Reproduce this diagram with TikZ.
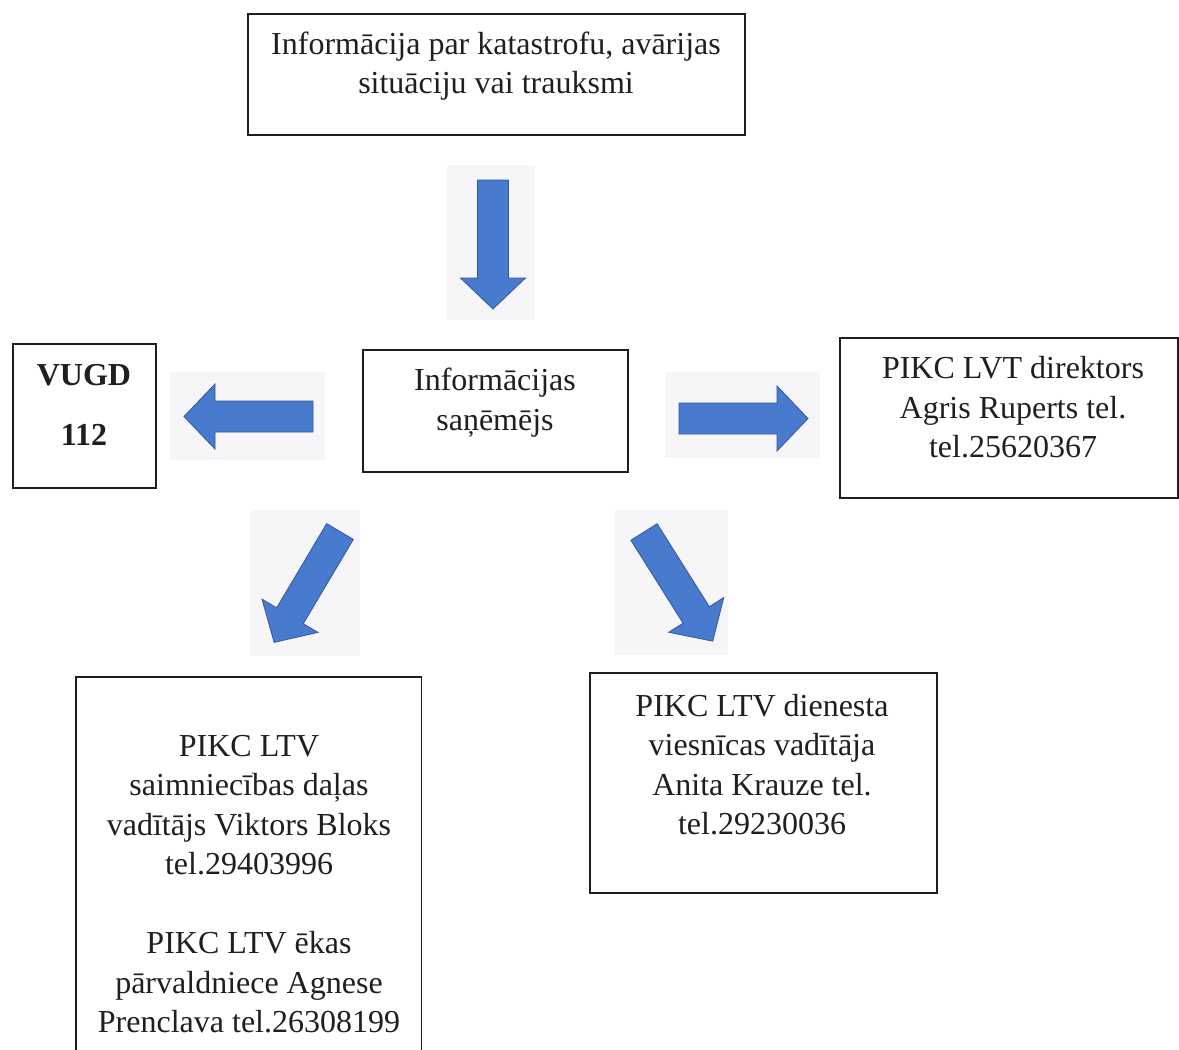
\documentclass[tikz,border=0pt]{standalone}
\usepackage{fontspec}
\setmainfont{Liberation Serif}
\definecolor{arrowblue}{RGB}{72,122,206}
\definecolor{arrowedge}{RGB}{50,88,158}
\definecolor{palebg}{RGB}{246,245,248}
\definecolor{boxline}{RGB}{30,30,30}
\tikzset{
  box/.style={draw=boxline, line width=1.4pt, inner sep=0pt},
  txt/.style={align=center, inner sep=0pt, font=\fontsize{32pt}{39.5pt}\selectfont, text=black!88},
  bg/.style={fill=palebg, draw=none},
  blockarrow/.pic={
    \filldraw[fill=arrowblue, draw=arrowedge, line width=0.8pt, line join=miter]
      (0,15.5) -- (98,15.5) -- (98,32.5) -- (129,0) -- (98,-32.5) -- (98,-15.5) -- (0,-15.5) -- cycle;
  }
}
\begin{document}
\begin{tikzpicture}[x=1pt,y=-1pt]
\useasboundingbox[fill=white] (0,0) rectangle (1179,1050);

% pale backgrounds of the arrows
\fill[bg] (447,165) rectangle (535,320);
\fill[bg] (170,372) rectangle (325,460);
\fill[bg] (665,372) rectangle (820,458);
\fill[bg] (250,510) rectangle (360,656);
\fill[bg] (615,510) rectangle (728,655);

% boxes
\node[box, minimum width=497pt, minimum height=121pt] (top) at (496.5,74.5) {};
\node[txt] (toptext) at (496,66) {Informācija par katastrofu, avārijas\\situāciju vai trauksmi};

\node[box, minimum width=265pt, minimum height=122pt] (center) at (495.5,411) {};
\node[txt] (centertext) at (495,402.5) {Informācijas\\saņēmējs};

\node[box, minimum width=143pt, minimum height=144pt] (vugd) at (84.5,416) {};
\node[txt, font=\fontsize{32pt}{60pt}\selectfont\bfseries] (vugdtext) at (84,405) {VUGD\\112};

\node[box, minimum width=338pt, minimum height=160pt] (dir) at (1009,418) {};
\node[txt] (dirtext) at (1013,407.5) {PIKC LVT direktors\\Agris Ruperts tel.\\tel.25620367};

\node[box, minimum width=347pt, minimum height=220pt] (hotel) at (763.5,783) {};
\node[txt] (hoteltext) at (762,764.5) {PIKC LTV dienesta\\viesnīcas vadītāja\\Anita Krauze tel.\\tel.29230036};

\node[inner sep=0pt, minimum width=345pt, minimum height=373pt] (farm) at (248.5,863.5) {};
\draw[boxline, line width=1.4pt] (farm.south west) |- (farm.north east) -- (farm.south east);
\node[txt] (farmtext) at (249,884) {PIKC LTV\\saimniecības daļas\\vadītājs Viktors Bloks\\tel.29403996\\[39.5pt]PIKC LTV ēkas\\pārvaldniece Agnese\\Prenclava tel.26308199};

% block arrows
\pic[rotate=-90] (adown) at (493,180) {blockarrow};
\pic[rotate=180] (aleft) at (313,416.5) {blockarrow};
\pic[rotate=0] (aright) at (679,418.5) {blockarrow};
\pic[rotate=-120.7] (adl) at (340,531.5) {blockarrow};
\pic[rotate=-57.8] (adr) at (644,532) {blockarrow};
\end{tikzpicture}
\end{document}
